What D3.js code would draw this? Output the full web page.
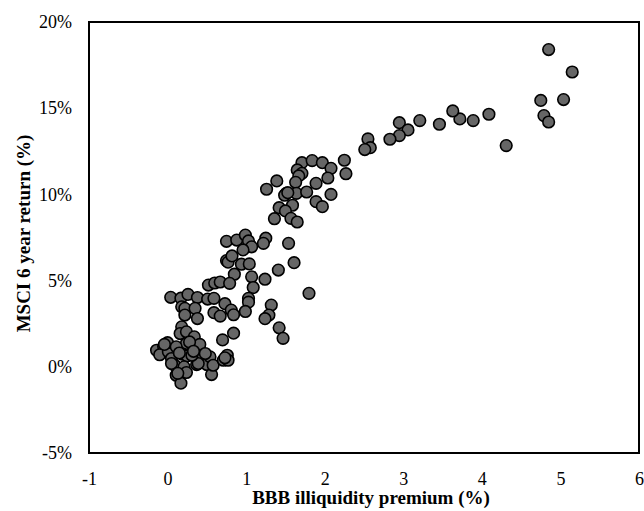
<!DOCTYPE html>
<html>
<head>
<meta charset="utf-8">
<script src="https://cdn.jsdelivr.net/npm/d3@7"></script>
<style>
  body { margin: 0; background: #fff; }
  .tick text { font-family: "Liberation Serif", "Times New Roman", serif; font-size: 18px; fill: #000; }
  .title { font-family: "Liberation Serif", "Times New Roman", serif; font-size: 19px; font-weight: bold; }
</style>
</head>
<body>
<script>
// x = BBB illiquidity premium (%), y = MSCI 6 year return (%)
var premium = [
  4.85, 5.15, 4.75, 5.04, 4.79, 4.85, 4.31, 4.09, 3.89, 3.72, 3.63, 3.46, 3.21, 2.95, 3.06, 2.95, 2.83, 2.55, 2.58, 2.51, 2.25, 2.27,
  1.71, 1.84, 1.97, 2.08, 2.04, 1.65, 1.71, 1.67, 1.63, 1.89, 1.39, 1.26, 1.51, 1.64, 1.77, 2.08, 1.89, 1.97, 1.59, 1.42, 1.50, 1.36, 1.57, 1.65, 1.49, 1.53,
  0.75, 0.88, 0.99, 1.03, 1.07, 1.25, 1.22, 1.54, 0.96, 0.75, 0.77, 0.82, 0.94, 1.04, 1.61, 0.85, 1.07, 1.41, 1.24, 1.09, 0.52, 0.60, 0.67, 0.79, 1.80, 1.03,
  0.04, 0.17, 0.26, 0.38, 0.51, 0.59, 0.73, 0.81, 0.84, 1.03, 0.99, 0.59, 0.67, 0.18, 0.22, 0.35, 0.38, 0.22, 1.32, 1.29, 1.24, 1.42, 1.47, 0.18, 0.16, 0.24, 0.34, 0.41, 0.24, 0.84, 0.70,
  -0.14, -0.05, -0.10, 0.01, 0.00, -0.04, 0.11, 0.05, 0.19, 0.25, 0.09, 0.21, 0.11, 0.17, 0.24, 0.37, 0.43, 0.50, 0.54, 0.56, 0.58, 0.48, 0.71, 0.76, 0.77, 0.73, 0.39, 0.05, 0.13, 0.31, 0.28, 0.33, 0.15
];
var msciReturn = [
  18.4, 17.1, 15.45, 15.5, 14.57, 14.2, 12.83, 14.65, 14.28, 14.38, 14.84, 14.07, 14.28, 14.16, 13.74, 13.41, 13.2, 13.22, 12.71, 12.6, 11.98, 11.2,
  11.84, 11.96, 11.84, 11.51, 10.95, 11.42, 11.22, 11.07, 10.7, 10.64, 10.78, 10.3, 10.06, 10.06, 10.14, 10.0, 9.58, 9.29, 9.37, 9.23, 9.04, 8.59, 8.61, 8.4, 9.95, 10.1,
  7.28, 7.35, 7.64, 7.3, 6.96, 7.46, 7.16, 7.16, 6.78, 6.16, 6.07, 6.43, 5.95, 5.97, 6.04, 5.37, 5.22, 5.61, 5.08, 4.6, 4.74, 4.86, 4.92, 4.84, 4.26, 3.97,
  4.03, 3.98, 4.2, 4.02, 3.93, 3.97, 3.66, 3.29, 3.02, 3.75, 3.21, 3.14, 2.94, 3.48, 3.39, 3.39, 2.8, 3.0, 3.58, 3.0, 2.79, 2.26, 1.65, 2.32, 1.93, 2.03, 1.74, 1.3, 1.35, 1.95, 1.56,
  0.96, 1.18, 0.7, 0.87, 1.4, 1.3, 1.16, 0.48, 0.73, 0.63, 0.09, 0.0, -0.49, -0.95, -0.33, 0.13, 0.67, 0.13, 0.58, -0.45, 0.09, 0.77, 0.38, 0.67, 0.38, 0.52, 0.19, 0.19, -0.38, 0.67, 1.44, 0.9, 0.8
];
var xTicks = [-1, 0, 1, 2, 3, 4, 5, 6];
var yTicks = [-5, 0, 5, 10, 15, 20];

var points = premium.map(function(p, i) { return {x: p, y: msciReturn[i]}; });

var W = 644, H = 511;
var margin = {top: 22, right: 5, bottom: 58, left: 89},
    width = W - margin.left - margin.right,   // 550
    height = H - margin.top - margin.bottom;  // 431

var svg = d3.select("body").append("svg")
    .attr("width", W)
    .attr("height", H);

var g = svg.append("g")
    .attr("transform", "translate(" + margin.left + "," + margin.top + ")");

var x = d3.scaleLinear().domain([-1, 6]).range([0, width]);
var y = d3.scaleLinear().domain([-5, 20]).range([height, 0]);

// axes, labels only (plain hyphen for negatives like the original)
var xAxis = g.append("g")
    .attr("transform", "translate(0," + height + ")")
    .call(d3.axisBottom(x).tickValues(xTicks).tickSize(0).tickPadding(19).tickFormat(function(d) { return String(d); }));
xAxis.select(".domain").remove();

var yAxis = g.append("g")
    .call(d3.axisLeft(y).tickValues(yTicks).tickSize(0).tickPadding(17).tickFormat(function(d) { return d + "%"; }));
yAxis.select(".domain").remove();

// frame
g.append("rect")
    .attr("x", 0)
    .attr("y", 0)
    .attr("width", width)
    .attr("height", height)
    .attr("fill", "none")
    .attr("stroke", "#000")
    .attr("stroke-width", 2);

// dots
g.selectAll(".dot")
    .data(points)
  .enter().append("circle")
    .attr("class", "dot")
    .attr("cx", function(d) { return x(d.x); })
    .attr("cy", function(d) { return y(d.y); })
    .attr("r", 5.8)
    .attr("fill", "#666")
    .attr("stroke", "#000")
    .attr("stroke-width", 1.6);

// axis titles
svg.append("text")
    .attr("class", "title")
    .attr("x", 371)
    .attr("y", 504)
    .attr("text-anchor", "middle")
    .text("BBB illiquidity premium (%)");

svg.append("text")
    .attr("class", "title")
    .attr("transform", "translate(30," + (margin.top + height / 2 - 4) + ") rotate(-90)")
    .attr("text-anchor", "middle")
    .text("MSCI 6 year return (%)");
</script>
</body>
</html>
